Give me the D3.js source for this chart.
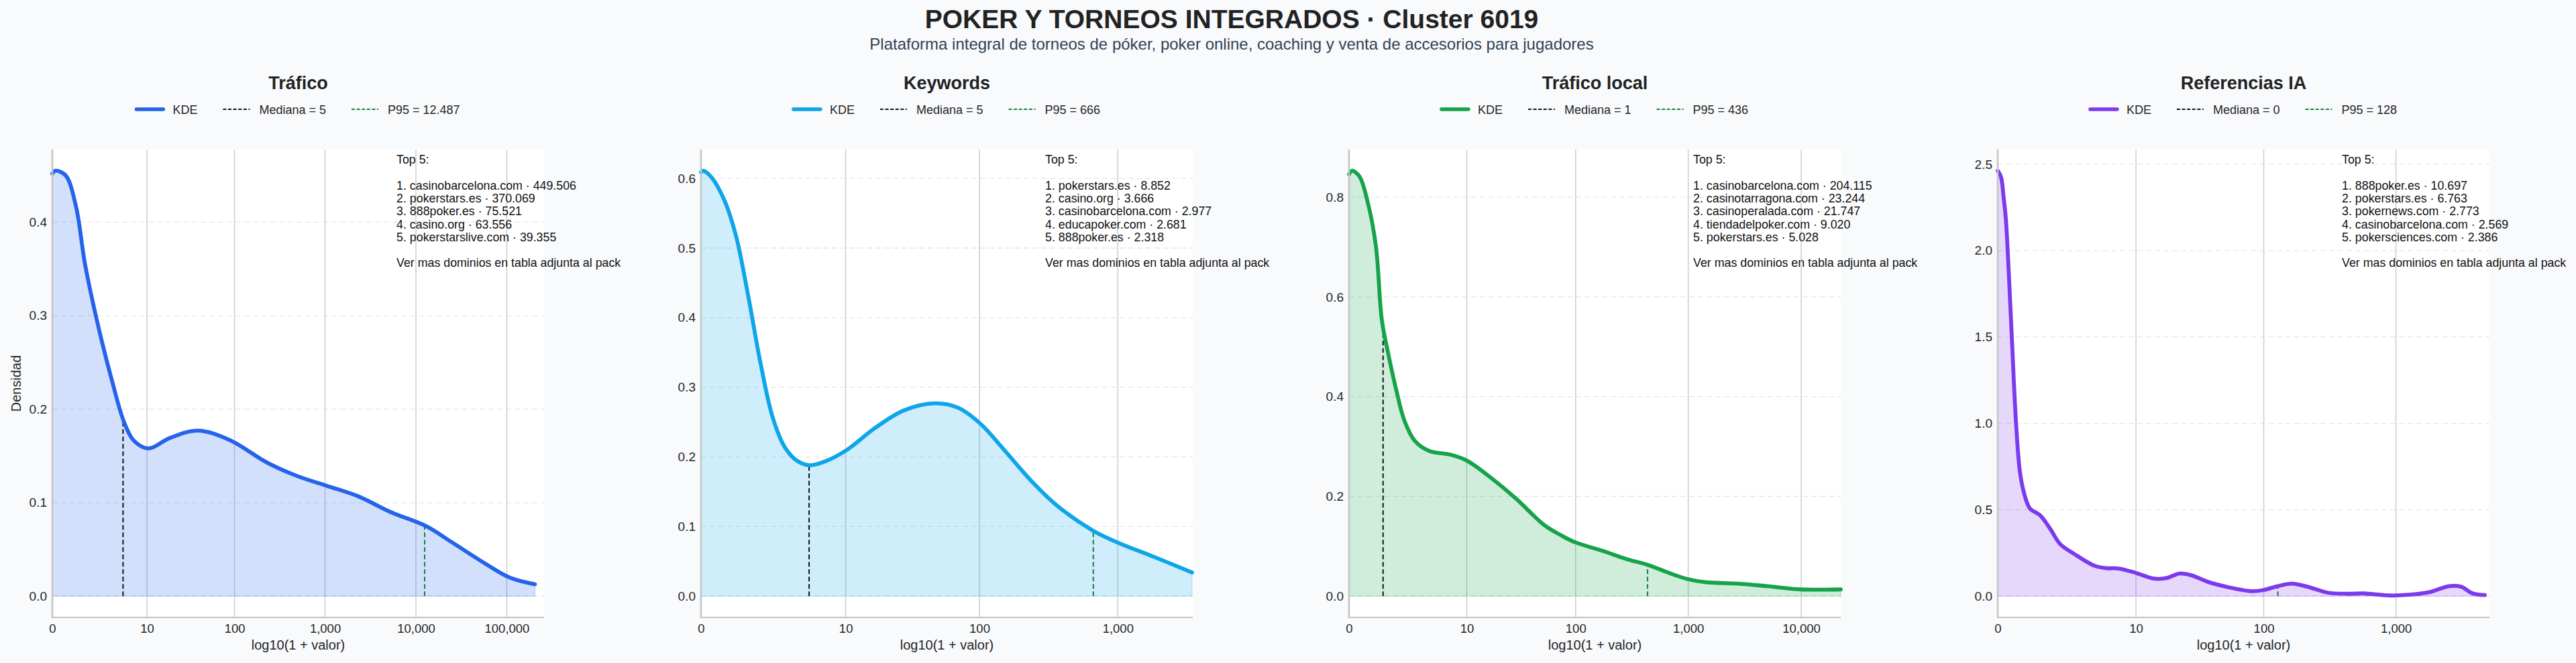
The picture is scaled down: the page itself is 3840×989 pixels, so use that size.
<!DOCTYPE html>
<html>
<head>
<meta charset="utf-8">
<script src="https://cdn.jsdelivr.net/npm/d3@7"></script>
<style>
  html, body { margin: 0; padding: 0; background: #f8fafc; }
  svg { display: block; font-family: "Liberation Sans", Arial, Helvetica, sans-serif; }
</style>
</head>
<body>
<div id="chart"></div>
<script>
// ---- data ----
const panelTitles = ['Tráfico', 'Keywords', 'Tráfico local', 'Referencias IA'];
const panelColors = ['#2563eb', '#0ea5e9', '#16a34a', '#7c3aed'];
const medianas = [5, 5, 1, 0];
const p95Values = [12487, 666, 436, 128];
const p95Labels = ['12.487', '666', '436', '128'];

// x in log10(1 + valor) units
const xDomainMax = [5.41, 3.54, 4.35, 3.705];
const xTickValues = [
  [0, 10, 100, 1000, 10000, 100000],
  [0, 10, 100, 1000],
  [0, 10, 100, 1000, 10000],
  [0, 10, 100, 1000]
];
const yTickValues = [
  [0, 0.1, 0.2, 0.3, 0.4],
  [0, 0.1, 0.2, 0.3, 0.4, 0.5, 0.6],
  [0, 0.2, 0.4, 0.6, 0.8],
  [0, 0.5, 1.0, 1.5, 2.0, 2.5]
];

// KDE curves: [log10(1+valor), densidad]
const kdeTrafico = [
  [0.00, 0.452], [0.035, 0.455], [0.147, 0.450], [0.26, 0.417], [0.36, 0.355],
  [0.507, 0.288], [0.655, 0.231], [0.79, 0.186], [0.90, 0.166], [1.06, 0.158],
  [1.29, 0.169], [1.60, 0.177], [1.95, 0.167], [2.36, 0.143], [2.68, 0.129],
  [3.02, 0.118], [3.36, 0.107], [3.72, 0.090], [4.11, 0.075], [4.39, 0.058],
  [4.76, 0.035], [5.03, 0.020], [5.31, 0.0127]
];
const kdeKeywords = [
  [0.00, 0.609], [0.015, 0.611], [0.074, 0.602], [0.163, 0.571], [0.251, 0.518],
  [0.34, 0.431], [0.429, 0.334], [0.517, 0.256], [0.606, 0.213], [0.695, 0.194],
  [0.783, 0.188], [0.90, 0.194], [1.05, 0.210], [1.256, 0.242], [1.463, 0.267],
  [1.685, 0.277], [1.847, 0.271], [2.004, 0.249], [2.20, 0.206], [2.38, 0.165],
  [2.557, 0.131], [2.823, 0.094], [3.0, 0.077], [3.266, 0.056], [3.535, 0.034]
];
const kdeLocal = [
  [0.00, 0.846], [0.026, 0.853], [0.091, 0.842], [0.164, 0.791], [0.237, 0.703],
  [0.29, 0.554], [0.346, 0.487], [0.419, 0.412], [0.49, 0.352], [0.583, 0.311],
  [0.71, 0.291], [0.893, 0.284], [1.04, 0.272], [1.257, 0.237], [1.475, 0.196],
  [1.73, 0.142], [1.876, 0.122], [2.0, 0.108], [2.24, 0.091], [2.46, 0.074],
  [2.64, 0.063], [2.86, 0.044], [3.0, 0.034], [3.15, 0.028], [3.44, 0.025],
  [3.70, 0.020], [4.0, 0.0135], [4.35, 0.0135]
];
const kdeIA = [
  [0.00, 2.462], [0.024, 2.428], [0.044, 2.31], [0.061, 2.184], [0.082, 1.89], [0.106, 1.50],
  [0.137, 1.014], [0.167, 0.72], [0.197, 0.60], [0.243, 0.507], [0.319, 0.468],
  [0.395, 0.39], [0.47, 0.302], [0.577, 0.244], [0.729, 0.176], [0.82, 0.162],
  [0.911, 0.16], [1.03, 0.137], [1.18, 0.101], [1.275, 0.105], [1.367, 0.131],
  [1.458, 0.121], [1.579, 0.084], [1.73, 0.053], [1.91, 0.029], [2.0, 0.035],
  [2.11, 0.058], [2.217, 0.072], [2.34, 0.053], [2.49, 0.0195], [2.64, 0.0137],
  [2.76, 0.0156], [2.95, 0.004], [3.1, 0.008], [3.25, 0.023], [3.40, 0.058],
  [3.49, 0.055], [3.58, 0.0156], [3.67, 0.006]
];
const kdeSeries = [kdeTrafico, kdeKeywords, kdeLocal, kdeIA];

const top5Trafico = [
  'casinobarcelona.com · 449.506', 'pokerstars.es · 370.069', '888poker.es · 75.521',
  'casino.org · 63.556', 'pokerstarslive.com · 39.355'
];
const top5Keywords = [
  'pokerstars.es · 8.852', 'casino.org · 3.666', 'casinobarcelona.com · 2.977',
  'educapoker.com · 2.681', '888poker.es · 2.318'
];
const top5Local = [
  'casinobarcelona.com · 204.115', 'casinotarragona.com · 23.244', 'casinoperalada.com · 21.747',
  'tiendadelpoker.com · 9.020', 'pokerstars.es · 5.028'
];
const top5IA = [
  '888poker.es · 10.697', 'pokerstars.es · 6.763', 'pokernews.com · 2.773',
  'casinobarcelona.com · 2.569', 'pokersciences.com · 2.386'
];
const top5Lists = [top5Trafico, top5Keywords, top5Local, top5IA];

// ---- layout ----
const W = 3840, H = 989;
const panelW = 733, panelStep = 966.5, firstLeft = 78;
const plotTop = 223, plotBottom = 921;

const svg = d3.select('#chart').append('svg')
  .attr('width', W).attr('height', H);

svg.append('rect').attr('width', W).attr('height', H).attr('fill', '#f8fafc');

svg.append('text')
  .attr('x', 1836).attr('y', 42)
  .attr('text-anchor', 'middle')
  .attr('font-size', '39px').attr('font-weight', 'bold').attr('fill', '#222222')
  .text('POKER Y TORNEOS INTEGRADOS · Cluster 6019');

svg.append('text')
  .attr('x', 1836).attr('y', 74)
  .attr('text-anchor', 'middle')
  .attr('font-size', '24px').attr('fill', '#334155')
  .text('Plataforma integral de torneos de póker, poker online, coaching y venta de accesorios para jugadores');

// linear interpolation of a KDE series at t
function densityAt(series, t) {
  const i = d3.bisector(d => d[0]).left(series, t);
  if (i <= 0) return series[0][1];
  if (i >= series.length) return series[series.length - 1][1];
  const a = series[i - 1], b = series[i];
  return a[1] + (b[1] - a[1]) * (t - a[0]) / (b[0] - a[0]);
}

const fmt = d3.format(',');

panelTitles.forEach((title, i) => {
  const left = Math.round(firstLeft + i * panelStep);
  const right = left + panelW;
  const cx = left + panelW / 2;
  const data = kdeSeries[i];
  const color = panelColors[i];

  const yMax = d3.max(data, d => d[1]);
  const x = d3.scaleLinear().domain([0, xDomainMax[i]]).range([left, right]);
  const y = d3.scaleLinear().domain([-0.05 * yMax, 1.05 * yMax]).range([plotBottom, plotTop]);

  const g = svg.append('g').attr('class', 'panel');

  // plot background
  g.append('rect')
    .attr('x', left).attr('y', plotTop)
    .attr('width', panelW).attr('height', plotBottom - plotTop)
    .attr('fill', '#ffffff');

  // horizontal dashed grid
  g.selectAll('.hgrid').data(yTickValues[i]).enter().append('line')
    .attr('x1', left).attr('x2', right)
    .attr('y1', d => y(d)).attr('y2', d => y(d))
    .attr('stroke', '#e6e6e6').attr('stroke-width', 1.3)
    .attr('stroke-dasharray', '8,5');

  // vertical solid grid
  g.selectAll('.vgrid').data(xTickValues[i]).enter().append('line')
    .attr('x1', d => x(Math.log10(1 + d))).attr('x2', d => x(Math.log10(1 + d)))
    .attr('y1', plotTop).attr('y2', plotBottom)
    .attr('stroke', '#cfcfcf').attr('stroke-width', 1.6);

  // KDE area + line
  const area = d3.area()
    .x(d => x(d[0])).y0(y(0)).y1(d => y(d[1]))
    .curve(d3.curveCatmullRom.alpha(0.5));
  const line = d3.line()
    .x(d => x(d[0])).y(d => y(d[1]))
    .curve(d3.curveCatmullRom.alpha(0.5));

  g.append('path').datum(data)
    .attr('d', area)
    .attr('fill', color).attr('fill-opacity', 0.2)
    .attr('stroke', color).attr('stroke-opacity', 0.2).attr('stroke-width', 1.5);

  // mediana & P95 markers
  const tMed = Math.log10(1 + medianas[i]);
  const tP95 = Math.log10(1 + p95Values[i]);
  g.append('line')
    .attr('x1', x(tMed)).attr('x2', x(tMed))
    .attr('y1', y(0)).attr('y2', y(densityAt(data, tMed)))
    .attr('stroke', '#111').attr('stroke-width', 2).attr('stroke-dasharray', '7,4');
  g.append('line')
    .attr('x1', x(tP95)).attr('x2', x(tP95))
    .attr('y1', y(0)).attr('y2', y(densityAt(data, tP95)))
    .attr('stroke', '#15803d').attr('stroke-width', 2).attr('stroke-dasharray', '7,4');

  g.append('path').datum(data)
    .attr('d', line)
    .attr('fill', 'none')
    .attr('stroke', color).attr('stroke-width', 5.8)
    .attr('stroke-linecap', 'round').attr('stroke-linejoin', 'round');

  // spines (on top, like matplotlib)
  g.append('line')
    .attr('x1', left).attr('x2', left).attr('y1', plotTop).attr('y2', plotBottom + 1)
    .attr('stroke', '#c4c4c4').attr('stroke-width', 2.6);
  g.append('line')
    .attr('x1', left - 1).attr('x2', right).attr('y1', plotBottom).attr('y2', plotBottom)
    .attr('stroke', '#c4c4c4').attr('stroke-width', 2.2);

  // axes labels via d3 axes (no tick marks)
  const xAxis = d3.axisBottom(x)
    .tickValues(xTickValues[i].map(v => Math.log10(1 + v)))
    .tickFormat((d, k) => fmt(xTickValues[i][k]))
    .tickSize(0).tickPadding(10);
  const xg = g.append('g').attr('transform', `translate(0,${plotBottom})`).call(xAxis);
  xg.select('.domain').remove();
  xg.selectAll('text')
    .attr('font-size', '18.5px').attr('fill', '#262626')
    .attr('font-family', '"Liberation Sans", Arial, sans-serif');

  const yAxis = d3.axisLeft(y)
    .tickValues(yTickValues[i])
    .tickFormat(d3.format('.1f'))
    .tickSize(0).tickPadding(8);
  const yg = g.append('g').attr('transform', `translate(${left},0)`).call(yAxis);
  yg.select('.domain').remove();
  yg.selectAll('text')
    .attr('font-size', '19px').attr('fill', '#262626')
    .attr('font-family', '"Liberation Sans", Arial, sans-serif');

  g.append('text')
    .attr('x', cx).attr('y', 969)
    .attr('text-anchor', 'middle')
    .attr('font-size', '20px').attr('fill', '#262626')
    .text('log10(1 + valor)');

  if (i === 0) {
    g.append('text')
      .attr('transform', `translate(31,${(plotTop + plotBottom) / 2}) rotate(-90)`)
      .attr('text-anchor', 'middle')
      .attr('font-size', '20px').attr('fill', '#262626')
      .text('Densidad');
  }

  // panel title
  g.append('text')
    .attr('x', cx).attr('y', 133)
    .attr('text-anchor', 'middle')
    .attr('font-size', '27px').attr('font-weight', 'bold').attr('fill', '#222222')
    .text(title);

  // legend
  const legendItems = [
    { label: 'KDE', stroke: color, width: 5.5, dash: null },
    { label: `Mediana = ${medianas[i]}`, stroke: '#111', width: 2, dash: '5,2.6' },
    { label: `P95 = ${p95Labels[i]}`, stroke: '#15803d', width: 2, dash: '5,2.6' }
  ];
  const lg = g.append('g');
  let cursor = 0;
  const legendY = 163;
  legendItems.forEach((it, k) => {
    const h = lg.append('line')
      .attr('x1', cursor).attr('x2', cursor + 40)
      .attr('y1', legendY).attr('y2', legendY)
      .attr('stroke', it.stroke).attr('stroke-width', it.width);
    if (it.dash) h.attr('stroke-dasharray', it.dash);
    else h.attr('stroke-linecap', 'round');
    cursor += 54;
    const t = lg.append('text')
      .attr('x', cursor).attr('y', legendY + 6.5)
      .attr('font-size', '18px').attr('fill', '#262626')
      .text(it.label);
    cursor += t.node().getComputedTextLength();
    if (k < legendItems.length - 1) cursor += 38;
  });
  lg.attr('transform', `translate(${cx - cursor / 2},0)`);

  // top 5 text block
  const lines = ['Top 5:', ''].concat(top5Lists[i].map((s, k) => `${k + 1}. ${s}`), ['', 'Ver mas dominios en tabla adjunta al pack']);
  const tb = g.append('text')
    .attr('x', left + 0.70 * panelW).attr('y', 244)
    .attr('font-size', '17.8px').attr('fill', '#111');
  lines.forEach((s, k) => {
    tb.append('tspan')
      .attr('x', left + 0.70 * panelW)
      .attr('y', 244 + k * 19.3)
      .text(s);
  });
});
</script>
</body>
</html>
